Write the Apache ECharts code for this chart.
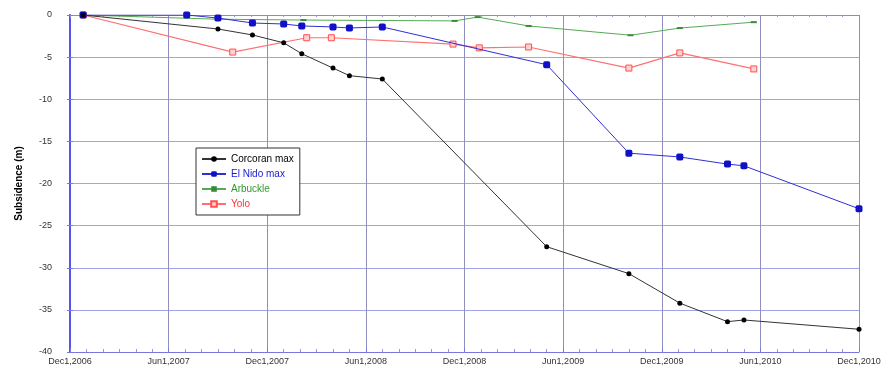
<!DOCTYPE html>
<html>
<head>
<meta charset="utf-8">
<script src="https://cdn.jsdelivr.net/npm/echarts@6/dist/echarts.min.js"></script>
<style>html,body{margin:0;padding:0;background:#fff;}#c{width:889px;height:377px;}</style>
</head>
<body>
<div id="c"></div>
<script>
// x = months since Dec 1, 2006
const xTickLabels = ['Dec1,2006','Jun1,2007','Dec1,2007','Jun1,2008','Dec1,2008','Jun1,2009','Dec1,2009','Jun1,2010','Dec1,2010'];
const yTickLabels = ['-40','-35','-30','-25','-20','-15','-10','-5','0'];

const corcoranMonths = [0.8, 9.0, 11.1, 13.0, 14.1, 16.0, 17.0, 19.0, 29.0, 34.0, 37.1, 40.0, 41.0, 48.0];
const corcoranValues = [0, -1.66, -2.37, -3.3, -4.6, -6.3, -7.2, -7.6, -27.5, -30.7, -34.2, -36.4, -36.2, -37.3];

const elNidoMonths = [0.8, 7.1, 9.0, 11.1, 13.0, 14.1, 16.0, 17.0, 19.0, 29.0, 34.0, 37.1, 40.0, 41.0, 48.0];
const elNidoValues = [0, 0, -0.36, -0.95, -1.07, -1.3, -1.42, -1.54, -1.42, -5.9, -16.4, -16.85, -17.7, -17.9, -23.0];

const arbuckleMonths = [0.8, 9.0, 14.2, 23.4, 24.8, 27.9, 34.1, 37.1, 41.6];
const arbuckleValues = [0, -0.5, -0.6, -0.7, -0.25, -1.3, -2.4, -1.55, -0.85];

const yoloMonths = [0.8, 9.9, 14.4, 15.9, 23.3, 24.9, 27.9, 34.0, 37.1, 41.6];
const yoloValues = [0, -4.4, -2.7, -2.7, -3.45, -3.9, -3.8, -6.3, -4.5, -6.4];

const zip = (xs, ys) => xs.map((x, i) => [x, ys[i]]);

const gridColor = '#a3a3e8';
const chart = echarts.init(document.getElementById('c'));
chart.setOption({
  animation: false,
  backgroundColor: '#fff',
  textStyle: { fontFamily: 'Liberation Sans, Arial, sans-serif' },
  grid: { left: 70, right: 30, top: 15, bottom: 25, containLabel: false },
  legend: {
    orient: 'vertical',
    left: 196, top: 148,
    backgroundColor: '#fff',
    borderColor: '#333', borderWidth: 1,
    padding: [6, 6, 6, 5],
    itemGap: 5,
    itemWidth: 24, itemHeight: 7,
    textStyle: { fontSize: 10 },
    data: [
      { name: 'Corcoran max', textStyle: { color: '#000' } },
      { name: 'El Nido max', textStyle: { color: '#1a1ad0' } },
      { name: 'Arbuckle', textStyle: { color: '#2f9a2f' } },
      { name: 'Yolo', textStyle: { color: '#ff3030' } }
    ]
  },
  xAxis: [{
    type: 'value', min: 0, max: 48, interval: 6,
    axisLine: { show: true, onZero: false, lineStyle: { color: '#7777dd', width: 1 } },
    axisTick: { show: true, inside: true, length: 4, lineStyle: { color: '#7777dd' } },
    minorTick: { show: true, splitNumber: 6, length: 3, lineStyle: { color: '#9999dd' } },
    axisLabel: { fontSize: 9, color: '#333', margin: 5,
      formatter: v => xTickLabels[Math.round(v / 6)] },
    splitLine: { show: true, lineStyle: { color: '#9090c0', width: 1 } }
  }, {
    type: 'value', min: 0, max: 48, interval: 6, position: 'top',
    axisLine: { show: true, lineStyle: { color: '#8888dd', width: 1 } },
    axisTick: { show: true, inside: true, length: 3, lineStyle: { color: '#8888dd' } },
    minorTick: { show: true, splitNumber: 6, length: 2, lineStyle: { color: '#9999dd' } },
    axisLabel: { show: false },
    splitLine: { show: false }
  }],
  yAxis: [{
    type: 'value', min: -40, max: 0, interval: 5,
    name: 'Subsidence (m)', nameLocation: 'middle', nameGap: 46, nameRotate: 90,
    nameTextStyle: { fontSize: 10, fontWeight: 'bold', color: '#000' },
    axisLine: { show: true, onZero: false, lineStyle: { color: '#5555ee', width: 2 } },
    axisTick: { show: true, inside: true, length: 3, lineStyle: { color: '#7777dd' } },
    axisLabel: { fontSize: 9, color: '#333', margin: 18,
      formatter: v => yTickLabels[Math.round((v + 40) / 5)] },
    splitLine: { show: true, lineStyle: { color: gridColor, width: 1 } }
  }, {
    type: 'value', min: -40, max: 0, interval: 5, position: 'right',
    axisLine: { show: true, lineStyle: { color: '#5555ee', width: 1.5 } },
    axisTick: { show: true, inside: true, length: 3, lineStyle: { color: '#7777dd' } },
    axisLabel: { show: false }, splitLine: { show: false }
  }],
  series: [
    { name: 'Corcoran max', type: 'line', data: zip(corcoranMonths, corcoranValues),
      symbol: 'circle', symbolSize: 5, color: '#000',
      lineStyle: { color: '#333', width: 1 }, itemStyle: { color: '#000' }, z: 5 },
    { name: 'El Nido max', type: 'line', data: zip(elNidoMonths, elNidoValues),
      symbol: 'roundRect', symbolSize: 7, color: '#1010c8',
      lineStyle: { color: '#3030d0', width: 1 }, itemStyle: { color: '#1010c8' }, z: 4 },
    { name: 'Arbuckle', type: 'line', data: zip(arbuckleMonths, arbuckleValues),
      symbol: 'rect', symbolSize: [6, 2], color: '#3a9a3a',
      lineStyle: { color: '#55aa55', width: 1 }, itemStyle: { color: '#3a8a3a' }, z: 3 },
    { name: 'Yolo', type: 'line', data: zip(yoloMonths, yoloValues),
      symbol: 'rect', symbolSize: 6, color: '#ff5050',
      lineStyle: { color: '#ff7070', width: 1.2 },
      itemStyle: { color: '#ffd0d0', borderColor: '#ff5050', borderWidth: 1 }, z: 2 }
  ]
});
</script>
</body>
</html>
